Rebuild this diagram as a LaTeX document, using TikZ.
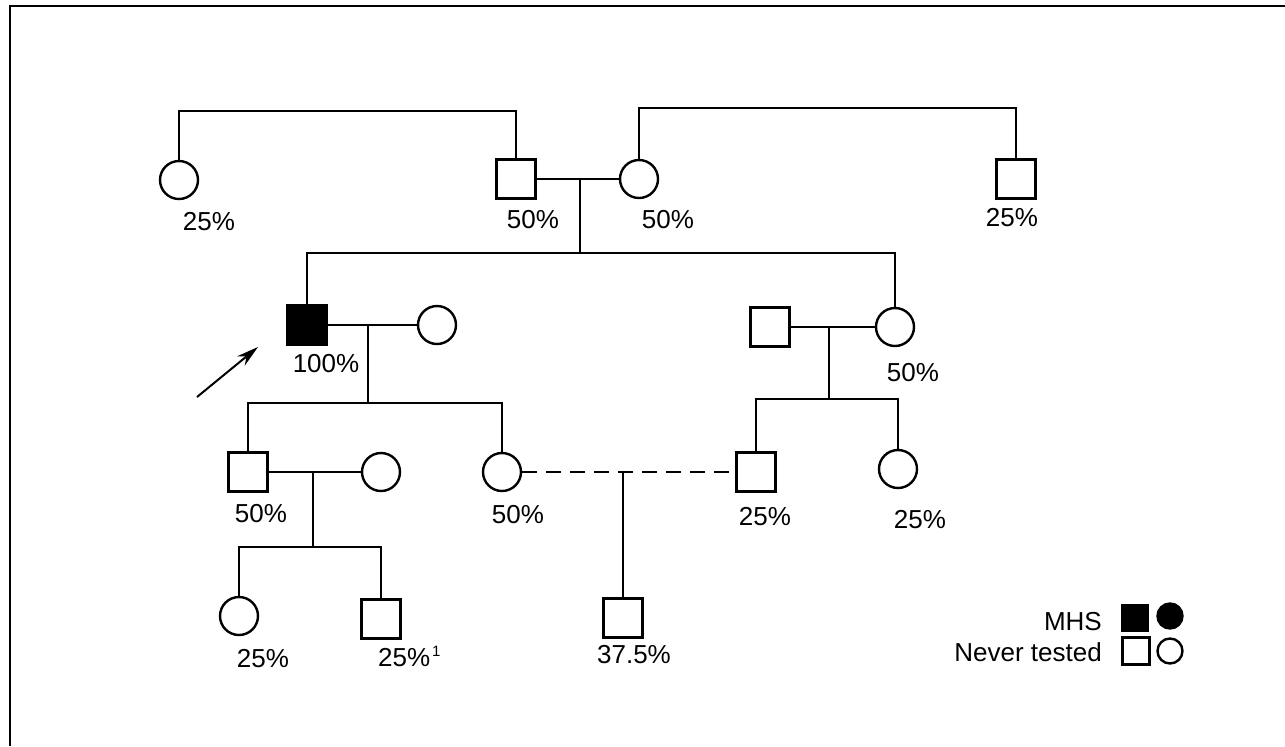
\documentclass[tikz,border=0pt]{standalone}
\usepackage{fontspec}
\setmainfont{Liberation Sans}
\usetikzlibrary{arrows.meta}
\begin{document}
\begin{tikzpicture}[x=0.5pt,y=-0.5pt,
  line width=1.2pt,
  male/.style={draw, rectangle, minimum size=19.5pt, inner sep=0pt},
  female/.style={draw, circle, minimum size=19pt, inner sep=0pt},
  affected/.style={fill=black},
  pct/.style={font=\fontsize{13}{15}\selectfont, inner sep=0pt},
  keytext/.style={font=\fontsize{13}{15}\selectfont, inner sep=0pt, anchor=east},
  keymale/.style={draw, rectangle, minimum size=12.5pt, inner sep=0pt},
  keyfemale/.style={draw, circle, minimum size=12.5pt, inner sep=0pt},
  relation/.style={dashed, dash pattern=on 7.5pt off 4.5pt},
]
\useasboundingbox (0,0) rectangle (1285,746);

% outer frame
\draw (10,746) -- (10,6) -- (1285,6);

% generation I
\node[female] (a) at (179,180) {};
\node[male]   (b) at (516,179) {};
\node[female] (c) at (639,179) {};
\node[male]   (d) at (1016,179) {};

% generation II
\node[male,affected] (e) at (307,325) {};
\node[female] (f) at (437,325) {};
\node[male]   (h) at (770,327) {};
\node[female] (g) at (895,327) {};

% generation III
\node[male]   (k) at (248,472) {};
\node[female] (l) at (381,472) {};
\node[female] (m) at (502,472) {};
\node[male]   (i) at (756,472) {};
\node[female] (j) at (898,469) {};

% generation IV
\node[female] (o) at (239,616) {};
\node[male]   (p) at (381,619) {};
\node[male]   (n) at (623,618) {};

% risk labels
\node[pct] (la) at (209,222) {25\%};
\node[pct] (lb) at (533,220) {50\%};
\node[pct] (lc) at (668,220) {50\%};
\node[pct] (ld) at (1012,218) {25\%};
\node[pct] (le) at (326,364) {100\%};
\node[pct] (lg) at (913,373) {50\%};
\node[pct] (lk) at (261,514) {50\%};
\node[pct] (lm) at (518,515) {50\%};
\node[pct] (li) at (765,517) {25\%};
\node[pct] (lj) at (920,520) {25\%};
\node[pct] (lo) at (263,659) {25\%};
\node[pct, anchor=west] (lp) at (377,656) {25\%\kern1pt\raisebox{5pt}{\fontsize{7.5}{9}\selectfont 1}};
\node[pct] (ln) at (634,655) {37.5\%};

% parents of the generation I spouses
\draw (a.north) -- ++(0,-49) -| (b.north);
\draw (c.north) -- ++(0,-51) -| (d.north);

% marriage b--c and their children
\draw (b) -- (c);
\coordinate (bc) at (580,179);
\coordinate (s1) at (580,253);
\draw (bc) -- (s1);
\draw (e.north) |- (s1) -| (g.north);

% marriage e--f and their children
\draw (e) -- (f);
\coordinate (ef) at (368,325);
\coordinate (s2) at (368,403);
\draw (ef) -- (s2);
\draw (k.north) |- (s2) -| (m.north);

% marriage h--g and their children
\draw (h) -- (g);
\coordinate (hg) at (829,327);
\coordinate (s3) at (829,399);
\draw (hg) -- (s3);
\draw (i.north) |- (s3) -| (j.north);

% marriage k--l and their children
\draw (k) -- (l);
\coordinate (kl) at (313,472);
\coordinate (s4) at (313,547);
\draw (kl) -- (s4);
\draw (o.north) |- (s4) -| (p.north);

% hypothetical union m--i
\draw[relation] (m) -- (i);
\coordinate (mi) at (623,472);
\draw (mi) -- (n.north);

% proband arrow
\coordinate (arrtail) at (197,397);
\coordinate (arrhead) at (258,347);
\draw[line width=1pt, -{Stealth[length=11pt,width=6pt]}] (arrtail) -- (arrhead);

% key
\node[keytext] (kmhs) at (1103,622) {MHS};
\node[keytext] (knever) at (1103,652) {Never tested};
\node[keymale, fill=black] (kms) at (1135,618) {};
\node[keyfemale, fill=black] (kmc) at (1170,616) {};
\node[keymale, minimum size=13.5pt, line width=1.5pt] (kns) at (1136,651) {};
\node[keyfemale] (knc) at (1170,651) {};
\end{tikzpicture}
\end{document}
